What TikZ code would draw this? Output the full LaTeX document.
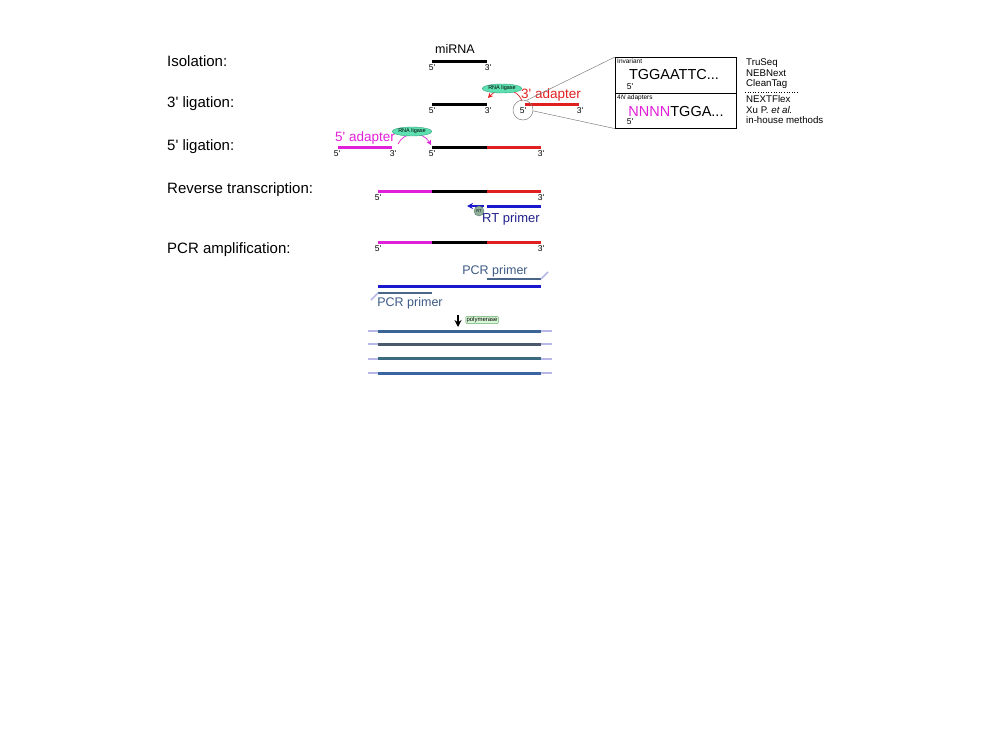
\documentclass[tikz,border=0pt]{standalone}
\usepackage{fontspec}
\setmainfont{Liberation Sans}
\usetikzlibrary{arrows.meta,shapes.geometric}
\newcommand{\fs}[1]{\fontsize{#1}{#1}\selectfont}
\newcommand{\ap}{\textquotesingle}
\definecolor{myred}{HTML}{E02020}
\definecolor{mymag}{HTML}{E020D8}
\definecolor{myblue}{HTML}{1A1ACC}
\definecolor{navy}{HTML}{20208A}
\definecolor{steel}{HTML}{3C5A84}
\definecolor{primer}{HTML}{4A6686}
\definecolor{lav}{HTML}{B8B8E8}
\definecolor{ligfill}{HTML}{5EE0B0}
\definecolor{ligdraw}{HTML}{30A080}
\definecolor{pcrA}{HTML}{3A6494}
\definecolor{pcrB}{HTML}{4A5A6C}
\definecolor{pcrC}{HTML}{3A6A7E}
\definecolor{pcrD}{HTML}{3A64A0}
\tikzset{
  steplabel/.style={anchor=west, inner sep=0pt, font=\fs{15}},
  endlabel/.style={inner sep=0pt, font=\fs{8.5}},
  listlabel/.style={anchor=west, inner sep=0pt, font=\fs{9.7}},
  strand/.style={line width=3pt},
  primerline/.style={line width=2.2pt, primer},
  tail/.style={line width=1.6pt, lav},
  ligase/.style={ellipse, fill=ligfill, draw=ligdraw, line width=0.4pt, inner sep=0.3pt,
    minimum width=36pt, minimum height=9pt, font=\fs{5.5}},
  bigseq/.style={inner sep=0pt, font=\fs{14.5}},
  tinylabel/.style={anchor=north west, inner sep=0pt, font=\fs{6.5}},
}
\begin{document}
\begin{tikzpicture}[x=1pt,y=-1pt]
\useasboundingbox (0,0) rectangle (1000,750);
% step labels
\node[steplabel] (s1) at (167,61) {Isolation:};
\node[steplabel] (s2) at (167,104) {3\ap{} ligation:};
\node[steplabel] (s3) at (167,147) {5\ap{} ligation:};
\node[steplabel] (s4) at (167,190) {Reverse transcription:};
\node[steplabel] (s5) at (167,250) {PCR amplification:};

% Isolation
\coordinate (i5) at (432,61); \coordinate (i3) at (487,61);
\draw[strand] (i5) -- (i3);
\node[endlabel] (il5) at (432,67.5) {5\ap};
\node[endlabel] (il3) at (488,67.5) {3\ap};
\node[inner sep=0pt, font=\fs{12.5}] (mirna) at (455,48.5) {miRNA};

% 3' ligation
\coordinate (a5) at (432,104); \coordinate (a3) at (487,104);
\coordinate (r5) at (525,104); \coordinate (r3) at (579,104);
\draw[strand] (a5) -- (a3);
\draw[strand, myred] (r5) -- (r3);
\node[endlabel] (al5) at (432,111) {5\ap};
\node[endlabel] (al3) at (488,111) {3\ap};
\node[endlabel] (rl5) at (523,111) {5\ap};
\node[endlabel] (rl3) at (580,111) {3\ap};
\node[inner sep=0pt, font=\fs{13.5}, text=myred] (adp3) at (551,95) {3\ap{} adapter};
\draw[myred, line width=0.7pt, -{Stealth[length=5pt,width=5pt]}] (522,101) .. controls (517,87) and (498,87) .. (488,98);
\node[ligase] (lig1) at (502,88.5) {RNA ligase};
\node[circle, draw=gray, minimum size=20pt, inner sep=0pt, line width=0.5pt] (zc) at (523,110) {};

% zoom box
\node[draw, anchor=north west, minimum width=121pt, minimum height=36pt, inner sep=0pt, line width=0.6pt] (box1) at (615,57) {};
\node[draw, anchor=north west, minimum width=121pt, minimum height=35pt, inner sep=0pt, line width=0.6pt] (box2) at (615,93) {};
\draw[gray, line width=0.5pt] (zc.70) -- (box1.north west);
\draw[gray, line width=0.5pt] (zc.-5) -- (box2.south west);
\node[tinylabel] (inv) at (617,58.5) {Invariant};
\node[bigseq] (seq1) at (674,75) {TGGAATTC...};
\node[endlabel] (b5a) at (630,87) {5\ap};
\node[tinylabel] (fourn) at (617,94.5) {4\textit{N} adapters};
\node[bigseq] (seq2) at (676,112) {\textcolor{mymag}{NNNN}TGGA...};
\node[endlabel] (b5b) at (630,122) {5\ap};

% method list
\node[listlabel] (m1) at (746,63) {TruSeq};
\node[listlabel] (m2) at (746,73.5) {NEBNext};
\node[listlabel] (m3) at (746,84) {CleanTag};
\coordinate (dotL) at (745,92); \coordinate (dotR) at (798,92);
\draw[dotted, line width=0.6pt] (dotL) -- (dotR);
\node[listlabel] (m4) at (746,99) {NEXTFlex};
\node[listlabel] (m5) at (746,110) {Xu P. \textit{et al.}};
\node[listlabel] (m6) at (746,120.5) {in-house methods};

% 5' ligation
\coordinate (p5) at (338,147); \coordinate (p3) at (392,147);
\coordinate (b5) at (432,147); \coordinate (bm) at (487,147); \coordinate (b3) at (541,147);
\draw[strand, mymag] (p5) -- (p3);
\draw[strand] (b5) -- (bm);
\draw[strand, myred] (bm) -- (b3);
\node[endlabel] (pl5) at (337,154) {5\ap};
\node[endlabel] (pl3) at (393,154) {3\ap};
\node[endlabel] (bl5) at (432,154) {5\ap};
\node[endlabel] (bl3) at (541,154) {3\ap};
\node[inner sep=0pt, font=\fs{13.5}, text=mymag] (adp5) at (365,138) {5\ap{} adapter};
\draw[mymag, line width=0.7pt, -{Stealth[length=5pt,width=5pt]}] (398,144) .. controls (404,131) and (423,131) .. (431,145);
\node[ligase] (lig2) at (412,131.5) {RNA ligase};

% Reverse transcription
\coordinate (t1) at (378,191); \coordinate (t2) at (432,191); \coordinate (t3) at (487,191); \coordinate (t4) at (541,191);
\draw[strand, mymag] (t1) -- (t2);
\draw[strand] (t2) -- (t3);
\draw[strand, myred] (t3) -- (t4);
\node[endlabel] (tl5) at (378,198) {5\ap};
\node[endlabel] (tl3) at (541,198) {3\ap};
\coordinate (rt1) at (487,206); \coordinate (rt2) at (541,206);
\draw[strand, myblue] (rt1) -- (rt2);
\coordinate (ra1) at (484,206); \coordinate (ra2) at (467,206);
\draw[myblue, line width=1.6pt, -{Stealth[length=6pt,width=6pt]}] (ra1) -- (ra2);
\node[circle, fill={rgb,255:red,143;green,175;blue,154}, draw={rgb,255:red,90;green,122;blue,106}, line width=0.4pt,
  minimum size=10pt, inner sep=0pt, font=\fs{4}] (rt) at (479,211) {RT};
\node[inner sep=0pt, font=\fs{13}, text=navy] (rtp) at (511,219) {RT primer};

% PCR amplification
\coordinate (c1) at (378,242); \coordinate (c2) at (432,242); \coordinate (c3) at (487,242); \coordinate (c4) at (541,242);
\draw[strand, mymag] (c1) -- (c2);
\draw[strand] (c2) -- (c3);
\draw[strand, myred] (c3) -- (c4);
\node[endlabel] (cl5) at (378,249) {5\ap};
\node[endlabel] (cl3) at (541,249) {3\ap};
\node[inner sep=0pt, font=\fs{12.5}, text=steel] (pp1) at (495,271) {PCR primer};
\coordinate (q1) at (487,279); \coordinate (q2) at (541,279); \coordinate (q3) at (548,272);
\draw[primerline] (q1) -- (q2);
\draw[tail] (q2) -- (q3);
\coordinate (d1) at (378,286); \coordinate (d2) at (541,286);
\draw[strand, myblue] (d1) -- (d2);
\coordinate (e1) at (378,293); \coordinate (e2) at (432,293); \coordinate (e0) at (371,300);
\draw[primerline] (e1) -- (e2);
\draw[tail] (e1) -- (e0);
\node[inner sep=0pt, font=\fs{12.5}, text=steel] (pp2) at (410,303) {PCR primer};
\coordinate (pa1) at (458,315); \coordinate (pa2) at (458,327);
\draw[line width=1.2pt, -{Stealth[length=7pt,width=7pt]}] (pa1) -- (pa2);
\node[draw={rgb,255:red,102;green,170;blue,102}, fill={rgb,255:red,216;green,248;blue,216}, rounded corners=1pt,
  line width=0.4pt, inner sep=0.8pt, font=\fs{6}] (pol) at (482,320) {polymerase};
\foreach \yy/\cc [count=\k] in {331/pcrA, 344/pcrB, 358.5/pcrC, 373/pcrD}{
  \coordinate (L\k a) at (368,\yy); \coordinate (L\k b) at (378,\yy);
  \coordinate (L\k c) at (541,\yy); \coordinate (L\k d) at (552,\yy);
  \draw[tail, line width=2pt] (L\k a) -- (L\k b);
  \draw[strand, \cc] (L\k b) -- (L\k c);
  \draw[tail, line width=2pt] (L\k c) -- (L\k d);
}
\end{tikzpicture}
\end{document}
